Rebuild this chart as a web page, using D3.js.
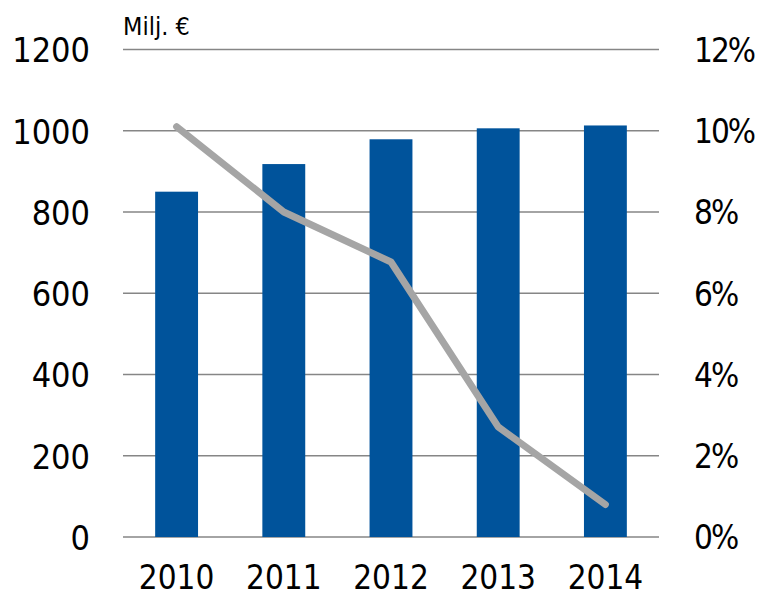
<!DOCTYPE html>
<html>
<head>
<meta charset="utf-8">
<script src="https://cdn.jsdelivr.net/npm/d3@7"></script>
<style>
  body { margin: 0; background: #fff; }
  svg text { font-family: "DejaVu Sans Condensed", "DejaVu Sans", sans-serif; fill: #000; }
</style>
</head>
<body>
<svg width="758" height="599"></svg>
<script>
// data
const years = ["2010", "2011", "2012", "2013", "2014"];
const revenue = [850, 918, 979, 1006, 1013];   // Milj. €, bars, left axis
const margin = [10.1, 8.0, 6.77, 2.71, 0.8];   // %, line, right axis
const leftTicks = [0, 200, 400, 600, 800, 1000, 1200];
const rightTicks = [0, 2, 4, 6, 8, 10, 12];

var svg = d3.select("svg"),
  plotLeft = 123,
  plotRight = 659,
  plotTop = 49.5,
  plotBottom = 537;

var x = d3.scaleBand().domain(years).range([plotLeft, plotRight]).paddingInner(0.6).paddingOuter(0.3);
var y = d3.scaleLinear().domain([0, 1200]).range([plotBottom, plotTop]);
var y2 = d3.scaleLinear().domain([0, 12]).range([plotBottom, plotTop]);

// gridlines
svg.append("g")
  .selectAll("line")
  .data(leftTicks)
  .enter()
  .append("line")
  .attr("x1", plotLeft)
  .attr("x2", plotRight)
  .attr("y1", (d) => y(d))
  .attr("y2", (d) => y(d))
  .attr("stroke", "#868686")
  .attr("stroke-width", 1.6);

// bars
svg.append("g")
  .selectAll("rect")
  .data(revenue)
  .enter()
  .append("rect")
  .attr("x", (d, i) => x(years[i]))
  .attr("y", (d) => y(d))
  .attr("width", x.bandwidth())
  .attr("height", (d) => plotBottom - y(d))
  .attr("fill", "#00539b");

// line
var line = d3.line()
  .x((d, i) => x(years[i]) + x.bandwidth() / 2)
  .y((d) => y2(d));

svg.append("path")
  .datum(margin)
  .attr("d", line)
  .attr("fill", "none")
  .attr("stroke", "#a5a5a5")
  .attr("stroke-width", 7)
  .attr("stroke-linecap", "round")
  .attr("stroke-linejoin", "round");

// left axis
var gl = svg.append("g")
  .attr("transform", "translate(90,0)")
  .call(d3.axisLeft(y).tickValues(leftTicks).tickSize(0).tickPadding(0).tickFormat(d3.format("d")));
gl.select(".domain").remove();
gl.selectAll("text").attr("font-size", 34).attr("dy", "0.36em");

// right axis
var gr = svg.append("g")
  .attr("transform", "translate(694,0)")
  .call(d3.axisRight(y2).tickValues(rightTicks).tickSize(0).tickPadding(0).tickFormat((d) => d + "%"));
gr.select(".domain").remove();
gr.selectAll("text")
  .attr("font-size", 33)
  .attr("letter-spacing", -2)
  .attr("dy", "0.36em");

// x axis
var gx = svg.append("g")
  .attr("transform", "translate(0,566)")
  .call(d3.axisBottom(x).tickSize(0).tickPadding(0));
gx.select(".domain").remove();
gx.selectAll("text").attr("font-size", 33);

// unit label
svg.append("text")
  .attr("x", 123)
  .attr("y", 35)
  .attr("font-size", 25)
  .text("Milj. €");
</script>
</body>
</html>
